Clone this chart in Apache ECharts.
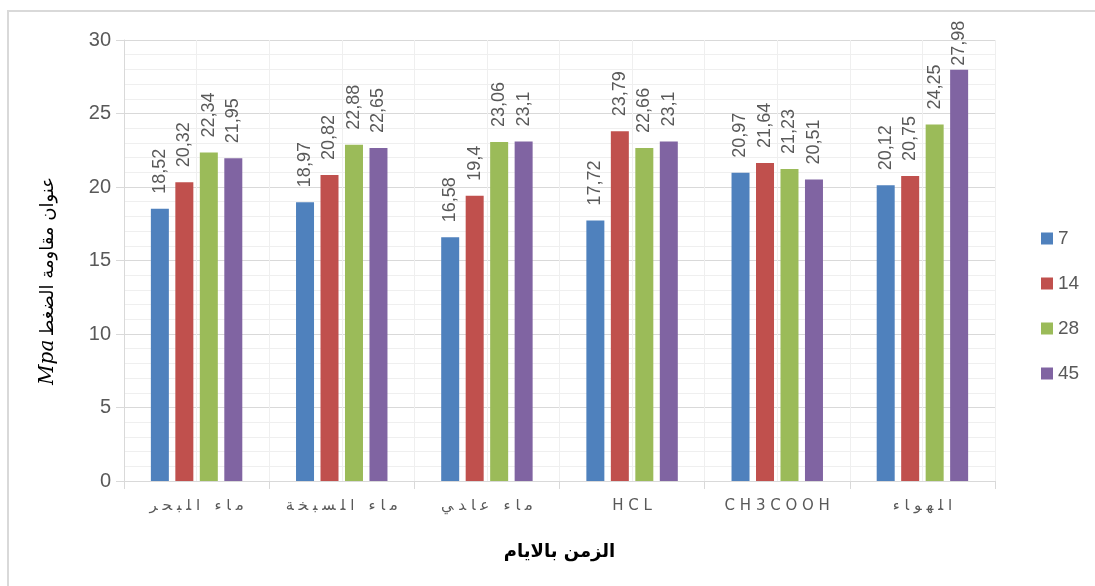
<!DOCTYPE html>
<html>
<head>
<meta charset="utf-8">
<script src="https://cdn.jsdelivr.net/npm/echarts@6/dist/echarts.min.js"></script>
<style>
  html, body { margin: 0; padding: 0; background: #fff; }
  #chart { width: 1095px; height: 586px; }
</style>
</head>
<body>
<div id="chart"></div>
<script>
// Exposure media (categories) and curing ages (series)
const categories = ['ماء البحر', 'ماء السبخة', 'ماء عادي', 'HCL', 'CH3COOH', 'الهواء'];
const ages = ['7', '14', '28', '45'];

// Compressive strength (MPa) for each age across the media
const day7  = [18.52, 18.97, 16.58, 17.72, 20.97, 20.12];
const day14 = [20.32, 20.82, 19.4, 23.79, 21.64, 20.75];
const day28 = [22.34, 22.88, 23.06, 22.66, 21.23, 24.25];
const day45 = [21.95, 22.65, 23.1, 23.1, 20.51, 27.98];

const yTicks = [0, 5, 10, 15, 20, 25, 30];
const yMax = 30;

const colors = ['#4F81BD', '#C0504D', '#9BBB59', '#8064A2'];
const numFont = '"Liberation Sans", "DejaVu Sans", sans-serif';
const arFont = '"DejaVu Sans", "Noto Sans", sans-serif';

// Letter-spaced category labels; ZWJ keeps Arabic letters in their joined forms
function spaced(s) {
  if (/^[A-Za-z0-9]+$/.test(s)) return s.split('').join(' ');
  return s.split(' ').map(w => Array.from(w).join('\u200D \u200D')).join('   ');
}

const seriesData = [day7, day14, day28, day45];
const series = seriesData.map((vals, i) => ({
  name: ages[i],
  type: 'bar',
  // labels near the top of the axis sit closer to their bar so they stay inside
  data: vals.map(v => v > yMax - 3 ? { value: v, label: { distance: 4 } } : v),
  barWidth: 18,
  barGap: '36%',
  itemStyle: { color: colors[i] },
  label: {
    show: true,
    position: 'top',
    rotate: 90,
    align: 'left',
    verticalAlign: 'middle',
    distance: 15,
    color: '#595959',
    fontSize: 18,
    fontFamily: numFont,
    formatter: p => String(p.value).replace('.', ',')
  }
}));

const chart = echarts.init(document.getElementById('chart'));
chart.setOption({
  animation: false,
  backgroundColor: '#fff',
  color: colors,
  graphic: [{
    type: 'rect',
    shape: { x: 8, y: 11, width: 1200, height: 700 },
    style: { fill: 'none', stroke: '#d9d9d9', lineWidth: 2 },
    z: 100
  }, {
    type: 'text',
    x: 48,
    y: 281,
    rotation: Math.PI / 2,
    style: {
      text: '{i|Mpa} {a|عنوان مقاومة الضغط}',
      align: 'center',
      verticalAlign: 'middle',
      fill: '#000',
      rich: {
        i: { fontSize: 20, fontStyle: 'italic', fontFamily: '"DejaVu Serif", "Liberation Serif", serif', fill: '#000' },
        a: { fontSize: 18, fontFamily: arFont, fill: '#000' }
      }
    }
  }],
  grid: { left: 124, right: 100, top: 40, bottom: 105 },
  legend: {
    orient: 'vertical',
    left: 1036,
    top: 224,
    itemWidth: 12,
    itemHeight: 12,
    itemGap: 26,
    icon: 'rect',
    textStyle: { color: '#595959', fontSize: 19, fontFamily: numFont },
    data: ages
  },
  xAxis: [{
    type: 'category',
    data: categories,
    axisLine: { show: true, lineStyle: { color: '#d9d9d9', width: 1 } },
    axisTick: { show: true, interval: 0, length: 8, lineStyle: { color: '#d9d9d9' } },
    splitLine: { show: true, interval: 0, lineStyle: { color: '#d9d9d9', width: 1 } },
    axisLabel: {
      interval: 0,
      hideOverlap: false,
      color: '#595959',
      fontSize: 15,
      fontFamily: arFont,
      margin: 18,
      formatter: v => spaced(v)
    },
    name: 'الزمن بالايام',
    nameLocation: 'middle',
    nameGap: 62,
    nameTextStyle: { color: '#000', fontSize: 18, fontWeight: 'bold', fontFamily: arFont }
  }, {
    // finer vertical guides at each group centre
    type: 'value',
    min: 0,
    max: 12,
    interval: 1,
    position: 'bottom',
    show: true,
    axisLine: { show: false },
    axisTick: { show: false },
    axisLabel: { show: false },
    splitLine: { show: true, lineStyle: { color: '#efefef', width: 1 } }
  }],
  yAxis: {
    type: 'value',
    min: 0,
    max: yMax,
    interval: 5,
    axisLine: { show: true, lineStyle: { color: '#d9d9d9' } },
    axisTick: { show: true, length: 8, lineStyle: { color: '#d9d9d9' } },
    splitLine: { show: true, lineStyle: { color: '#d9d9d9', width: 1 } },
    minorTick: { show: false, splitNumber: 5 },
    minorSplitLine: { show: true, lineStyle: { color: '#efefef', width: 1 } },
    axisLabel: {
      color: '#595959',
      fontSize: 20,
      fontFamily: numFont,
      margin: 13,
      formatter: v => yTicks.includes(v) ? String(v) : ''
    }
  },
  series: series
});
</script>
</body>
</html>
